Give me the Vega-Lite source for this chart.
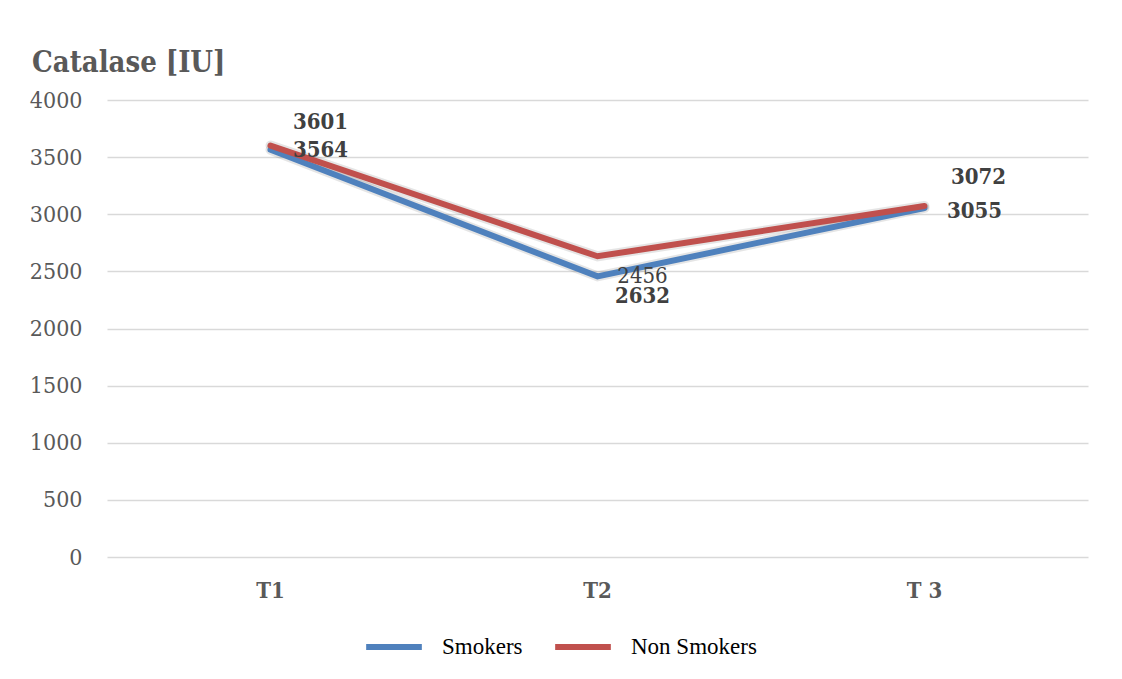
{
  "$schema": "https://vega.github.io/schema/vega-lite/v6.json",
  "width": 981,
  "height": 457,
  "autosize": {"type": "none"},
  "padding": {"left": 107, "top": 100, "right": 34, "bottom": 122},
  "background": "white",
  "title": {
    "text": "Catalase [IU]",
    "anchor": "start",
    "frame": "group",
    "dx": -75,
    "offset": 11,
    "font": "DejaVu Serif Condensed, DejaVu Serif",
    "fontSize": 29,
    "fontWeight": "bold",
    "color": "#595959"
  },
  "data": {
    "values": [
      {"time": "T1", "series": "Smokers", "value": 3564},
      {"time": "T2", "series": "Smokers", "value": 2456},
      {"time": "T 3", "series": "Smokers", "value": 3055},
      {"time": "T1", "series": "Non Smokers", "value": 3601},
      {"time": "T2", "series": "Non Smokers", "value": 2632},
      {"time": "T 3", "series": "Non Smokers", "value": 3072}
    ]
  },
  "encoding": {
    "x": {
      "field": "time",
      "type": "nominal",
      "sort": ["T1", "T2", "T 3"],
      "scale": {"type": "band", "paddingInner": 0, "paddingOuter": 0},
      "axis": {
        "title": null,
        "labelAngle": 0,
        "labelFont": "DejaVu Serif Condensed, DejaVu Serif",
        "labelFontSize": 22,
        "labelFontWeight": "bold",
        "labelColor": "#595959",
        "labelPadding": 23,
        "ticks": false,
        "domain": false,
        "grid": false
      }
    },
    "y": {
      "field": "value",
      "type": "quantitative",
      "scale": {"domain": [0, 4000], "nice": false},
      "axis": {
        "title": null,
        "values": [0, 500, 1000, 1500, 2000, 2500, 3000, 3500, 4000],
        "format": "d",
        "labelFont": "DejaVu Serif Condensed, DejaVu Serif",
        "labelFontSize": 23,
        "labelColor": "#595959",
        "labelPadding": 25,
        "ticks": false,
        "domain": false,
        "grid": true,
        "gridColor": "#d9d9d9",
        "gridWidth": 1.5
      }
    }
  },
  "layer": [
    {
      "mark": {"type": "line", "strokeWidth": 10, "color": "#000000", "opacity": 0.1, "strokeCap": "round", "strokeJoin": "miter"},
      "encoding": {"detail": {"field": "series"}}
    },
    {
      "mark": {"type": "line", "strokeWidth": 6, "strokeCap": "round", "strokeJoin": "miter"},
      "encoding": {
        "color": {
          "field": "series",
          "type": "nominal",
          "scale": {"domain": ["Smokers", "Non Smokers"], "range": ["#4F81BD", "#C0504D"]},
          "legend": {
            "title": null,
            "orient": "none",
            "direction": "horizontal",
            "legendX": 256,
            "legendY": 516,
            "symbolType": "stroke",
            "symbolSize": 3100,
            "symbolStrokeWidth": 6,
            "labelFont": "Liberation Serif",
            "labelFontSize": 23,
            "labelColor": "#000000",
            "labelOffset": 17,
            "columnPadding": 20
          }
        }
      }
    },
    {
      "transform": [{"filter": "datum.series == 'Non Smokers' && datum.time == 'T1'"}],
      "mark": {"type": "text", "dx": 50, "dy": -24, "font": "DejaVu Serif Condensed, DejaVu Serif", "fontSize": 22, "fontWeight": "bold", "color": "#404040"},
      "encoding": {"text": {"field": "value"}}
    },
    {
      "transform": [{"filter": "datum.series == 'Smokers' && datum.time == 'T1'"}],
      "mark": {"type": "text", "dx": 50, "dy": 0, "font": "DejaVu Serif Condensed, DejaVu Serif", "fontSize": 22, "fontWeight": "bold", "color": "#404040"},
      "encoding": {"text": {"field": "value"}}
    },
    {
      "transform": [{"filter": "datum.series == 'Smokers' && datum.time == 'T2'"}],
      "mark": {"type": "text", "dx": 45, "dy": 0, "font": "DejaVu Serif Condensed, DejaVu Serif", "fontSize": 22, "color": "#404040"},
      "encoding": {"text": {"field": "value"}}
    },
    {
      "transform": [{"filter": "datum.series == 'Non Smokers' && datum.time == 'T2'"}],
      "mark": {"type": "text", "dx": 45, "dy": 40, "font": "DejaVu Serif Condensed, DejaVu Serif", "fontSize": 22, "fontWeight": "bold", "color": "#404040"},
      "encoding": {"text": {"field": "value"}}
    },
    {
      "transform": [{"filter": "datum.series == 'Non Smokers' && datum.time == 'T 3'"}],
      "mark": {"type": "text", "dx": 54, "dy": -29, "font": "DejaVu Serif Condensed, DejaVu Serif", "fontSize": 22, "fontWeight": "bold", "color": "#404040"},
      "encoding": {"text": {"field": "value"}}
    },
    {
      "transform": [{"filter": "datum.series == 'Smokers' && datum.time == 'T 3'"}],
      "mark": {"type": "text", "dx": 50, "dy": 3, "font": "DejaVu Serif Condensed, DejaVu Serif", "fontSize": 22, "fontWeight": "bold", "color": "#404040"},
      "encoding": {"text": {"field": "value"}}
    }
  ],
  "config": {
    "view": {"stroke": null}
  }
}
